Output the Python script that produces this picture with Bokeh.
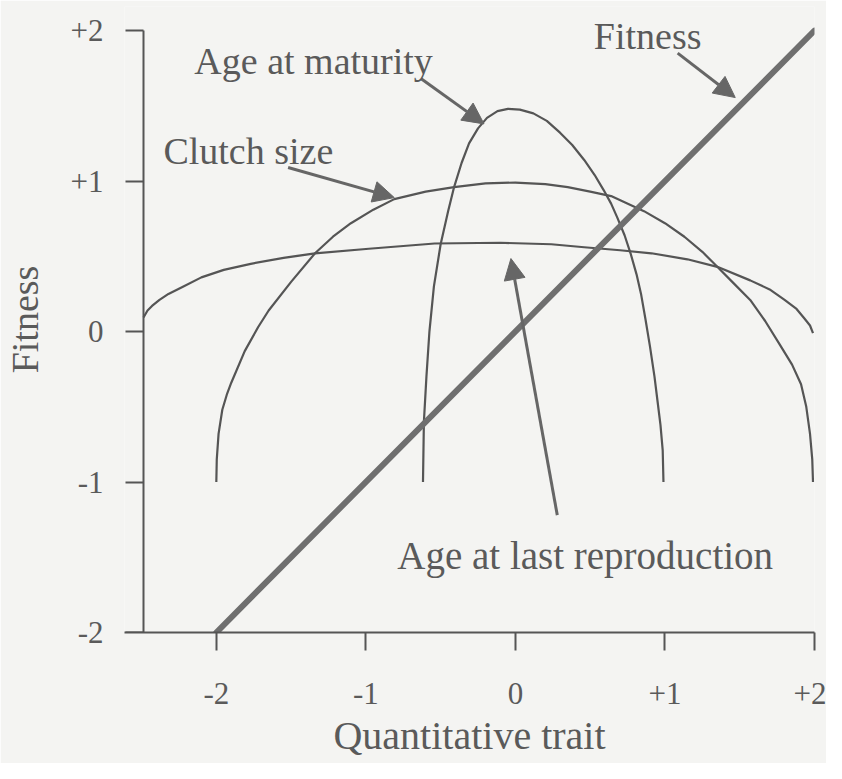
from bokeh.plotting import figure
from bokeh.models import Range1d, LinearAxis, FixedTicker, Label, Arrow, NormalHead
from bokeh.embed import file_html
from bokeh.resources import INLINE

# ---- data ----
x_ticks = [-2, -1, 0, 1, 2]
x_tick_labels = ["-2", "-1", "0", "+1", "+2"]
y_ticks = [-2, -1, 0, 1, 2]
y_tick_labels = ["-2", "-1", "0", "+1", "+2"]

fitness_x = [-2.0, 2.0]
fitness_y = [-2.0, 2.0]

maturity_x = [-0.618, -0.612, -0.595, -0.575, -0.545, -0.50, -0.45, -0.41, -0.36, -0.31,
              -0.25, -0.19, -0.12, -0.05, 0.03, 0.12, 0.21, 0.30, 0.38, 0.46, 0.53, 0.59,
              0.64, 0.68, 0.73, 0.77, 0.81, 0.84, 0.87, 0.90, 0.93, 0.95, 0.97, 0.985, 0.99]
maturity_y = [-1.0, -0.60, -0.30, 0.0, 0.30, 0.58, 0.80, 0.96, 1.12, 1.25,
              1.35, 1.42, 1.465, 1.48, 1.475, 1.45, 1.40, 1.32, 1.24, 1.14, 1.04, 0.94,
              0.85, 0.76, 0.64, 0.52, 0.38, 0.25, 0.08, -0.10, -0.30, -0.46, -0.62, -0.79, -1.0]

clutch_x = [-2.0, -1.997, -1.985, -1.96, -1.93, -1.90, -1.81, -1.72, -1.65, -1.50, -1.34,
            -1.22, -1.10, -0.95, -0.81, -0.60, -0.41, -0.20, 0.0, 0.20, 0.35, 0.50, 0.64,
            0.86, 1.00, 1.13, 1.25, 1.35, 1.46, 1.57, 1.67, 1.77, 1.85, 1.91, 1.945, 1.97,
            1.985, 1.99]
clutch_y = [-1.0, -0.85, -0.68, -0.52, -0.42, -0.34, -0.13, 0.03, 0.14, 0.33, 0.52,
            0.63, 0.72, 0.81, 0.88, 0.93, 0.96, 0.985, 0.99, 0.98, 0.96, 0.93, 0.90,
            0.80, 0.72, 0.63, 0.53, 0.43, 0.32, 0.21, 0.07, -0.09, -0.22, -0.35, -0.50, -0.68,
            -0.85, -1.0]

lastrep_x = [-2.487, -2.46, -2.43, -2.38, -2.32, -2.22, -2.10, -1.95, -1.77, -1.55, -1.34,
             -0.98, -0.54, -0.10, 0.24, 0.46, 0.70, 0.91, 1.15, 1.35, 1.57, 1.70, 1.80,
             1.88, 1.93, 1.97, 1.99]
lastrep_y = [0.093, 0.14, 0.17, 0.21, 0.25, 0.30, 0.36, 0.41, 0.45, 0.49, 0.52,
             0.55, 0.585, 0.59, 0.58, 0.56, 0.54, 0.52, 0.48, 0.43, 0.34, 0.28, 0.21,
             0.15, 0.09, 0.04, -0.01]

# annotation texts and their anchor positions (data units)
label_texts = ["Fitness", "Age at maturity", "Clutch size", "Age at last reproduction"]
label_x = [0.524, -2.147, -2.354, -0.79]
label_y = [1.967, 1.80, 1.203, -1.488]
label_sizes = ["38px", "38px", "38px", "39px"]

# arrows: tail -> tip
arrow_x0 = [1.085, -0.63, -1.52, 0.28]
arrow_y0 = [1.85, 1.68, 1.09, -1.22]
arrow_x1 = [1.47, -0.21, -0.81, -0.03]
arrow_y1 = [1.555, 1.38, 0.89, 0.485]

# position of the vertical (Fitness) axis along the trait axis
y_axis_at = -2.487

# ---- styling ----
BG = "#f4f4f2"
INK = "#555555"
TXT = "#5a5a5a"
FONT = "Liberation Serif"

p = figure(width=826, height=763, output_backend="svg", toolbar_location=None,
           x_range=Range1d(-2.614, 2.0), y_range=Range1d(-2.0, 2.16),
           y_axis_location=None, x_axis_location="below",
           min_border_left=123, min_border_right=12, min_border_top=6, min_border_bottom=131)
p.background_fill_color = BG
p.border_fill_color = BG
p.outline_line_color = None
p.grid.visible = False

# bottom axis
xa = p.xaxis[0]
xa.ticker = FixedTicker(ticks=x_ticks)
xa.major_label_overrides = {t: l for t, l in zip(x_ticks, x_tick_labels)}
xa.axis_line_color = INK
xa.axis_line_width = 2
xa.major_tick_line_color = INK
xa.major_tick_line_width = 2
xa.major_tick_out = 18
xa.major_tick_in = 0
xa.minor_tick_line_color = None
xa.major_label_text_font = FONT
xa.major_label_text_font_size = "31px"
xa.major_label_text_color = TXT
xa.major_label_standoff = 32
xa.axis_label = "Quantitative trait"
xa.axis_label_text_font = FONT
xa.axis_label_text_font_size = "40px"
xa.axis_label_text_font_style = "normal"
xa.axis_label_text_color = TXT
xa.axis_label_standoff = 6

# vertical axis line + ticks, drawn at its place inside the frame
yline = LinearAxis(fixed_location=y_axis_at, ticker=FixedTicker(ticks=y_ticks),
                   bounds=(min(y_ticks), max(y_ticks)))
yline.axis_line_color = INK
yline.axis_line_width = 2
yline.major_tick_line_color = INK
yline.major_tick_line_width = 2
yline.major_tick_out = 18
yline.major_tick_in = 0
yline.minor_tick_line_color = None
yline.major_label_text_color = None
yline.major_label_text_font_size = "1px"
p.add_layout(yline, "left")

# vertical axis labels (outside the frame)
ya = LinearAxis(ticker=FixedTicker(ticks=y_ticks))
ya.major_label_overrides = {t: l for t, l in zip(y_ticks, y_tick_labels)}
ya.axis_line_color = None
ya.major_tick_line_color = None
ya.minor_tick_line_color = None
ya.major_tick_out = 0
ya.major_tick_in = 0
ya.major_label_text_font = FONT
ya.major_label_text_font_size = "31px"
ya.major_label_text_color = TXT
ya.major_label_standoff = 21
ya.axis_label = "Fitness"
ya.axis_label_text_font = FONT
ya.axis_label_text_font_size = "38px"
ya.axis_label_text_font_style = "normal"
ya.axis_label_text_color = TXT
ya.axis_label_standoff = 22
p.add_layout(ya, "left")

# curves
p.line(lastrep_x, lastrep_y, line_color=INK, line_width=2.2, line_join="round")
p.line(clutch_x, clutch_y, line_color=INK, line_width=2.2, line_join="round")
p.line(maturity_x, maturity_y, line_color=INK, line_width=2.2, line_join="round")
p.line(fitness_x, fitness_y, line_color="#6f6f6f", line_width=6, line_cap="round")

# arrows
for x0, y0, x1, y1 in zip(arrow_x0, arrow_y0, arrow_x1, arrow_y1):
    p.add_layout(Arrow(x_start=x0, y_start=y0, x_end=x1, y_end=y1,
                       line_color="#666666", line_width=3,
                       end=NormalHead(size=21, fill_color="#666666", line_color="#666666")))

# labels
for t, lx, ly, fs in zip(label_texts, label_x, label_y, label_sizes):
    p.add_layout(Label(x=lx, y=ly, text=t, text_font=FONT, text_font_size=fs,
                       text_color=TXT, text_align="left", text_baseline="alphabetic"))

open("out.html", "w").write(file_html(p, INLINE))
